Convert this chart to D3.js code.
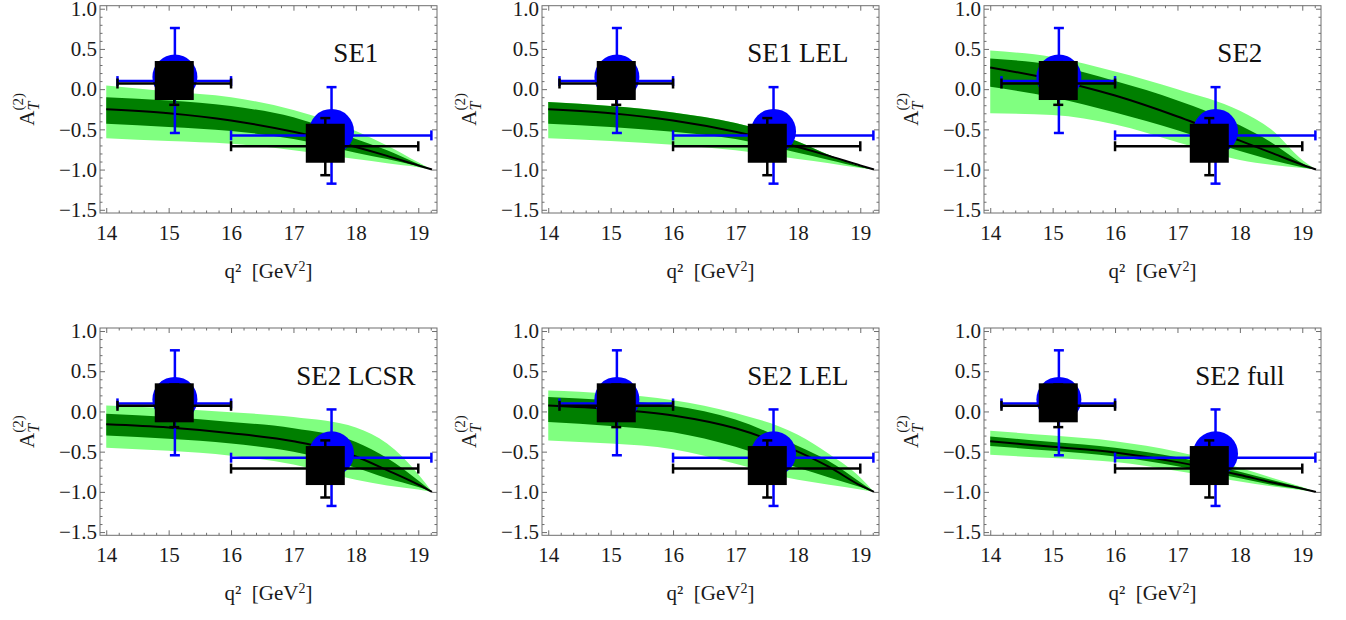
<!DOCTYPE html>
<html lang="en">
<head>
<meta charset="utf-8">
<title>A_T^(2) panels</title>
<script src="https://cdn.jsdelivr.net/npm/d3@7"></script>
<style>
    body { margin: 0; background-color: white; }
    svg { display: block; font-family: "Liberation Serif", "DejaVu Serif", serif; }
    .frame { fill: none; stroke: #6e6e6e; stroke-width: 1; }
    .tick line { stroke: #6e6e6e; }
    .domain { display: none; }
    .tick text { font-size: 21px; fill: #1a1a1a; font-family: "Liberation Serif", serif; }
    .panel-label { font-size: 27px; fill: #111; }
    .axis-label { font-size: 21px; fill: #1a1a1a; }
</style>
</head>
<body>
<div id="chart_div"></div>
<script>
"use strict";

var qBins = [14, 15, 16, 17, 18, 18.5, 19, 19.22];

// SE1
var se1Mid     = [-0.25, -0.30, -0.39, -0.53, -0.72, -0.83, -0.95, -1.0];
var se1LightHi = [0.045, -0.03, -0.10, -0.26, -0.52, -0.70, -0.91, -1.0];
var se1DarkHi  = [-0.10, -0.14, -0.21, -0.35, -0.62, -0.76, -0.93, -1.0];
var se1DarkLo  = [-0.43, -0.47, -0.52, -0.62, -0.79, -0.87, -0.96, -1.0];
var se1LightLo = [-0.61, -0.645, -0.68, -0.76, -0.87, -0.92, -0.97, -1.0];

// SE1 LEL
var se1lelMid     = [-0.25, -0.30, -0.39, -0.53, -0.72, -0.83, -0.95, -1.0];
var se1lelLightHi = [-0.16, -0.21, -0.29, -0.42, -0.65, -0.82, -0.96, -1.0];
var se1lelDarkHi  = [-0.16, -0.21, -0.29, -0.42, -0.65, -0.82, -0.96, -1.0];
var se1lelDarkLo  = [-0.43, -0.47, -0.53, -0.62, -0.79, -0.88, -0.97, -1.0];
var se1lelLightLo = [-0.61, -0.645, -0.69, -0.76, -0.87, -0.92, -0.98, -1.0];

// SE2
var se2Mid     = [0.27, 0.12, -0.08, -0.34, -0.64, -0.79, -0.94, -1.0];
var se2LightHi = [0.48, 0.40, 0.22, 0.0, -0.27, -0.50, -0.88, -1.0];
var se2DarkHi  = [0.38, 0.30, 0.10, -0.14, -0.45, -0.66, -0.92, -1.0];
var se2DarkLo  = [0.03, -0.10, -0.29, -0.51, -0.77, -0.88, -0.97, -1.0];
var se2LightLo = [-0.30, -0.32, -0.44, -0.66, -0.88, -0.94, -0.98, -1.0];

// SE2 LCSR
var se2lcsrMid     = [-0.16, -0.20, -0.27, -0.37, -0.56, -0.73, -0.91, -1.0];
var se2lcsrLightHi = [0.075, 0.04, -0.01, -0.07, -0.20, -0.40, -0.78, -1.0];
var se2lcsrDarkHi  = [-0.03, -0.07, -0.13, -0.21, -0.38, -0.58, -0.86, -1.0];
var se2lcsrDarkLo  = [-0.30, -0.34, -0.40, -0.50, -0.70, -0.83, -0.94, -1.0];
var se2lcsrLightLo = [-0.45, -0.49, -0.55, -0.66, -0.85, -0.92, -0.97, -1.0];

// SE2 LEL
var se2lelMid     = [0.075, 0.03, -0.05, -0.21, -0.50, -0.69, -0.92, -1.0];
var se2lelLightHi = [0.26, 0.22, 0.14, -0.02, -0.29, -0.53, -0.82, -1.0];
var se2lelDarkHi  = [0.18, 0.14, 0.07, -0.10, -0.43, -0.62, -0.88, -1.0];
var se2lelDarkLo  = [-0.13, -0.18, -0.26, -0.44, -0.70, -0.82, -0.94, -1.0];
var se2lelLightLo = [-0.36, -0.40, -0.47, -0.65, -0.85, -0.91, -0.97, -1.0];

// SE2 full
var se2fullMid     = [-0.37, -0.44, -0.51, -0.63, -0.79, -0.88, -0.96, -1.0];
var se2fullLightHi = [-0.24, -0.30, -0.37, -0.50, -0.70, -0.82, -0.94, -1.0];
var se2fullDarkHi  = [-0.31, -0.38, -0.45, -0.57, -0.75, -0.85, -0.95, -1.0];
var se2fullDarkLo  = [-0.43, -0.49, -0.56, -0.68, -0.83, -0.91, -0.97, -1.0];
var se2fullLightLo = [-0.54, -0.58, -0.63, -0.74, -0.87, -0.93, -0.98, -1.0];

var panelNames = ["SE1", "SE1 LEL", "SE2", "SE2 LCSR", "SE2 LEL", "SE2 full"];

// measured bins (blue circles)
var blueX   = [15.10, 17.61];
var blueY   = [0.10, -0.575];
var blueXlo = [14.18, 16.0];
var blueXhi = [16.0, 19.21];
var blueYlo = [-0.545, -1.175];
var blueYhi = [0.76, 0.025];

// measured bins (black squares)
var blackX   = [15.09, 17.51];
var blackY   = [0.07, -0.71];
var blackXlo = [14.18, 16.0];
var blackXhi = [16.0, 19.0];
var blackYlo = [-0.195, -1.07];
var blackYhi = [0.335, -0.36];

var xMajor = [14, 15, 16, 17, 18, 19];
var yMajor = [-1.5, -1.0, -0.5, 0.0, 0.5, 1.0];

var panels = [
    { name: panelNames[0], mid: se1Mid, lh: se1LightHi, dh: se1DarkHi, dl: se1DarkLo, ll: se1LightLo },
    { name: panelNames[1], mid: se1lelMid, lh: se1lelLightHi, dh: se1lelDarkHi, dl: se1lelDarkLo, ll: se1lelLightLo },
    { name: panelNames[2], mid: se2Mid, lh: se2LightHi, dh: se2DarkHi, dl: se2DarkLo, ll: se2LightLo },
    { name: panelNames[3], mid: se2lcsrMid, lh: se2lcsrLightHi, dh: se2lcsrDarkHi, dl: se2lcsrDarkLo, ll: se2lcsrLightLo },
    { name: panelNames[4], mid: se2lelMid, lh: se2lelLightHi, dh: se2lelDarkHi, dl: se2lelDarkLo, ll: se2lelLightLo },
    { name: panelNames[5], mid: se2fullMid, lh: se2fullLightHi, dh: se2fullDarkHi, dl: se2fullDarkLo, ll: se2fullLightLo }
];

var svg_width = 1346;
var svg_height = 620;
var colLeft = [100, 542, 984];
var rowTop = [5.7, 328];
var plot_w = 337;
var plot_h = 207.3;

var svg = d3.select("#chart_div")
    .append("svg")
    .attr("width", svg_width)
    .attr("height", svg_height);

var xscale = d3.scaleLinear().domain([13.9, 19.3]).range([0, plot_w]);
var yscale = d3.scaleLinear().domain([-1.54, 1.0375]).range([plot_h, 0]);

var xMinor = d3.range(14, 19.3, 0.2).filter(function(v) { return Math.abs(v - Math.round(v)) > 1e-6; });
var yMinor = d3.range(-1.5, 1.05, 0.1).filter(function(v) { return Math.abs(v * 2 - Math.round(v * 2)) > 1e-6; });

var fmt = d3.format(".1f");

panels.forEach(function(p, i)
{
    var g = svg.append("g")
        .attr("transform", "translate(" + colLeft[i % 3] + "," + rowTop[Math.floor(i / 3)] + ")");

    var pts = qBins.map(function(q, k)
    {
        return { q: q, mid: p.mid[k], lh: p.lh[k], dh: p.dh[k], dl: p.dl[k], ll: p.ll[k] };
    });

    var lightArea = d3.area()
        .x(function(d) { return xscale(d.q); })
        .y0(function(d) { return yscale(d.ll); })
        .y1(function(d) { return yscale(d.lh); })
        .curve(d3.curveMonotoneX);
    var darkArea = d3.area()
        .x(function(d) { return xscale(d.q); })
        .y0(function(d) { return yscale(d.dl); })
        .y1(function(d) { return yscale(d.dh); })
        .curve(d3.curveMonotoneX);
    var midLine = d3.line()
        .x(function(d) { return xscale(d.q); })
        .y(function(d) { return yscale(d.mid); })
        .curve(d3.curveMonotoneX);

    g.append("path").attr("d", lightArea(pts)).attr("fill", "#80ff80");
    g.append("path").attr("d", darkArea(pts)).attr("fill", "#007f00");
    g.append("path").attr("d", midLine(pts)).attr("fill", "none")
        .attr("stroke", "black").attr("stroke-width", 2);

    // blue circles + error bars
    blueX.forEach(function(x, k)
    {
        g.append("circle")
            .attr("cx", xscale(x))
            .attr("cy", yscale(blueY[k]) - 4)
            .attr("r", 22.5)
            .attr("fill", "#0000ff");
    });
    drawBars(g, blueX, blueY, blueXlo, blueXhi, blueYlo, blueYhi, "#0000ff");

    // black squares + error bars
    blackX.forEach(function(x, k)
    {
        g.append("rect")
            .attr("x", xscale(x) - 19.5)
            .attr("y", yscale(blackY[k]) - 3 - 19.5)
            .attr("width", 39)
            .attr("height", 39)
            .attr("fill", "black");
    });
    drawBars(g, blackX, blackY, blackXlo, blackXhi, blackYlo, blackYhi, "black");

    // frame and ticks
    g.append("g").attr("transform", "translate(0," + plot_h + ")")
        .call(d3.axisBottom(xscale).tickValues(xMajor).tickSizeInner(-5).tickSizeOuter(0).tickPadding(12).tickFormat(d3.format("d")));
    g.append("g").attr("transform", "translate(0," + plot_h + ")")
        .call(d3.axisBottom(xscale).tickValues(xMinor).tickSizeInner(-2.5).tickSizeOuter(0).tickFormat(""));
    g.append("g")
        .call(d3.axisTop(xscale).tickValues(xMajor).tickSizeInner(-5).tickSizeOuter(0).tickFormat(""));
    g.append("g")
        .call(d3.axisTop(xscale).tickValues(xMinor).tickSizeInner(-2.5).tickSizeOuter(0).tickFormat(""));
    g.append("g")
        .call(d3.axisLeft(yscale).tickValues(yMajor).tickSizeInner(-5).tickSizeOuter(0).tickPadding(3).tickFormat(fmt));
    g.append("g")
        .call(d3.axisLeft(yscale).tickValues(yMinor).tickSizeInner(-2.5).tickSizeOuter(0).tickFormat(""));
    g.append("g").attr("transform", "translate(" + plot_w + ",0)")
        .call(d3.axisRight(yscale).tickValues(yMajor).tickSizeInner(-5).tickSizeOuter(0).tickFormat(""));
    g.append("g").attr("transform", "translate(" + plot_w + ",0)")
        .call(d3.axisRight(yscale).tickValues(yMinor).tickSizeInner(-2.5).tickSizeOuter(0).tickFormat(""));

    g.append("rect")
        .attr("class", "frame")
        .attr("x", 0).attr("y", 0)
        .attr("width", plot_w).attr("height", plot_h);

    // panel name
    g.append("text")
        .attr("class", "panel-label")
        .attr("x", xscale(18))
        .attr("y", yscale(0.45))
        .attr("dy", "0.35em")
        .attr("text-anchor", "middle")
        .text(p.name);

    // x label
    var xl = g.append("text")
        .attr("class", "axis-label")
        .attr("x", plot_w / 2)
        .attr("y", plot_h + 65)
        .attr("text-anchor", "middle");
    xl.append("tspan").text("q\u00b2\u00a0\u00a0[GeV");
    xl.append("tspan").attr("baseline-shift", "super").attr("font-size", "14px").text("2");
    xl.append("tspan").text("]");

    // y label
    var yl = g.append("text")
        .attr("class", "axis-label")
        .attr("transform", "translate(-66," + (plot_h / 2) + ") rotate(-90)")
        .attr("text-anchor", "middle")
        .attr("font-size", "23px");
    yl.append("tspan").text("A");
    yl.append("tspan").attr("font-style", "italic").attr("font-size", "16px").attr("dy", "5").text("T");
    yl.append("tspan").attr("font-size", "15px").attr("dx", "-9").attr("dy", "-16").text("(2)");
});

function drawBars(g, xs, ys, xlo, xhi, ylo, yhi, color)
{
    var cap = 5;
    xs.forEach(function(x, k)
    {
        var cx = xscale(x), cy = yscale(ys[k]);
        var segs = [
            [xscale(xlo[k]), cy, xscale(xhi[k]), cy],
            [xscale(xlo[k]), cy - cap, xscale(xlo[k]), cy + cap],
            [xscale(xhi[k]), cy - cap, xscale(xhi[k]), cy + cap],
            [cx, yscale(ylo[k]), cx, yscale(yhi[k])],
            [cx - cap, yscale(ylo[k]), cx + cap, yscale(ylo[k])],
            [cx - cap, yscale(yhi[k]), cx + cap, yscale(yhi[k])]
        ];
        segs.forEach(function(s)
        {
            g.append("line")
                .attr("x1", s[0]).attr("y1", s[1])
                .attr("x2", s[2]).attr("y2", s[3])
                .attr("stroke", color)
                .attr("stroke-width", 2.5);
        });
    });
}
</script>
</body>
</html>
